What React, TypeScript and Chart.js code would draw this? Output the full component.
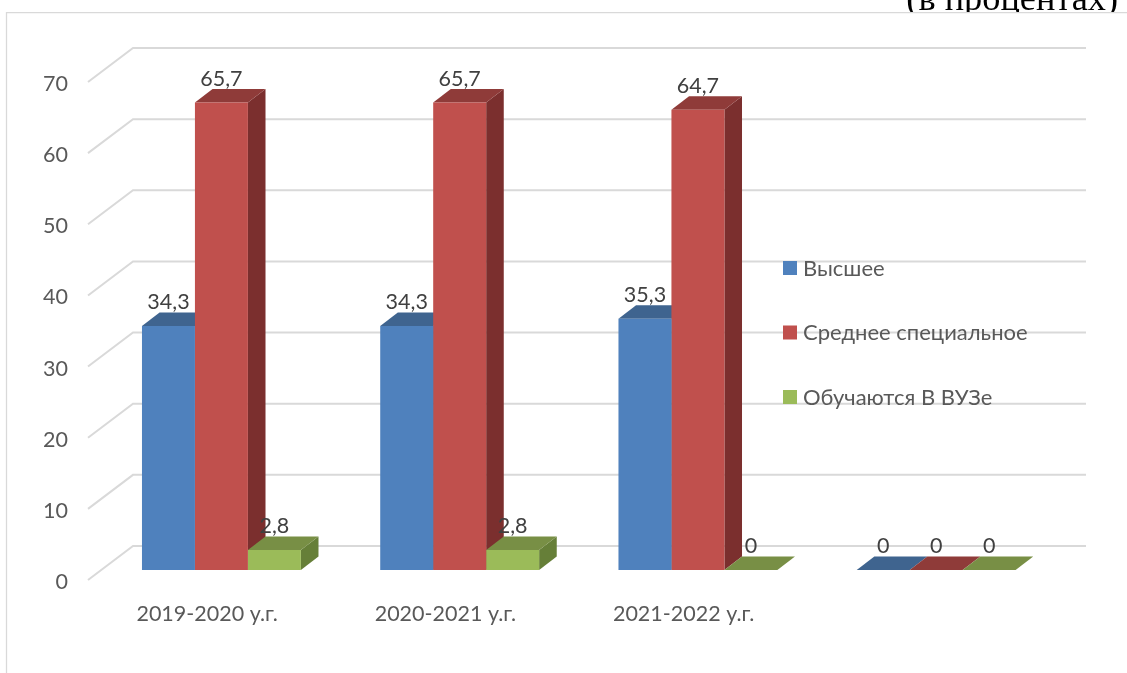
import React, { useEffect, useRef } from "react";
import { Chart, registerables } from "chart.js";

Chart.register(...registerables);

const categories = ["2019-2020 у.г.", "2020-2021 у.г.", "2021-2022 у.г.", ""];
const higher = [34.3, 34.3, 35.3, 0];
const specialised = [65.7, 65.7, 64.7, 0];
const studying = [2.8, 2.8, 0, 0];
const seriesNames = ["Высшее", "Среднее специальное", "Обучаются В ВУЗе"];
const yTicks = [0, 10, 20, 30, 40, 50, 60, 70];
const pageNote = "(в процентах)";

const frontColors = ["#4F81BD", "#C0504D", "#9BBB59"];
const topColors = ["#3F648F", "#8F3B39", "#788F45"];
const sideColors = ["#35557C", "#7B2F2E", "#667F38"];

const FONT = "Lato, sans-serif";
const FONT_SIZE = 21.5;
const LEGEND_FONT_SIZE = 22;
const WALL_DX = 45;
const WALL_DY = 34;
const BAR_GAP_DX = 14.3;
const BAR_GAP_DY = 10;
const DEPTH_DX = 17.6;
const DEPTH_DY = 13.5;

function poly(ctx: CanvasRenderingContext2D, pts: number[][], fill: string) {
  ctx.beginPath();
  pts.forEach(([x, y], i) => (i ? ctx.lineTo(x, y) : ctx.moveTo(x, y)));
  ctx.closePath();
  ctx.fillStyle = fill;
  ctx.fill();
}

const framePlugin = {
  id: "frame3d",
  beforeDraw(chart: any) {
    const { ctx, width, height, chartArea, scales } = chart;
    ctx.save();
    // note text cut by the chart frame
    ctx.save();
    ctx.beginPath();
    ctx.rect(0, 0, width, 12);
    ctx.clip();
    ctx.font = "36.3px 'Liberation Serif', serif";
    ctx.fillStyle = "#000";
    ctx.textAlign = "right";
    ctx.textBaseline = "alphabetic";
    ctx.fillText(pageNote, 1118, 9.5);
    ctx.restore();
    // frame
    ctx.strokeStyle = "#D9D9D9";
    ctx.lineWidth = 1.25;
    ctx.beginPath();
    ctx.moveTo(6.5, height);
    ctx.lineTo(6.5, 12.5);
    ctx.lineTo(width, 12.5);
    ctx.stroke();
    // floor and wall grid
    ctx.strokeStyle = "#D9D9D9";
    ctx.lineWidth = 2;
    ctx.lineJoin = "miter";
    yTicks.forEach((v) => {
      const y = scales.y.getPixelForValue(v);
      ctx.beginPath();
      ctx.moveTo(chartArea.left, y);
      ctx.lineTo(chartArea.left + WALL_DX, y - WALL_DY);
      ctx.lineTo(chartArea.right + WALL_DX, y - WALL_DY);
      ctx.stroke();
    });
    ctx.restore();
  },
  beforeDatasetsDraw(chart: any) {
    const { ctx } = chart;
    ctx.save();
    ctx.translate(BAR_GAP_DX, -BAR_GAP_DY);
    categories.forEach((_, i) => {
      chart.data.datasets.forEach((_d: any, s: number) => {
        const el = chart.getDatasetMeta(s).data[i];
        const l = el.x - el.width / 2;
        const r = el.x + el.width / 2;
        poly(ctx, [[r, el.y], [r + DEPTH_DX, el.y - DEPTH_DY], [r + DEPTH_DX, el.base - DEPTH_DY], [r, el.base]], sideColors[s]);
        poly(ctx, [[l, el.y], [l + DEPTH_DX, el.y - DEPTH_DY], [r + DEPTH_DX, el.y - DEPTH_DY], [r, el.y]], topColors[s]);
      });
    });
    // the translation stays on while the library draws the front faces
  },
  afterDatasetsDraw(chart: any) {
    const { ctx } = chart;
    ctx.restore();
    ctx.save();
    ctx.font = `${FONT_SIZE}px ${FONT}`;
    ctx.fillStyle = "#404040";
    ctx.textAlign = "center";
    ctx.textBaseline = "middle";
    chart.data.datasets.forEach((d: any, s: number) => {
      chart.getDatasetMeta(s).data.forEach((el: any, i: number) => {
        const label = String(d.data[i]).replace(".", ",");
        ctx.fillText(label, el.x + BAR_GAP_DX, el.y - BAR_GAP_DY - DEPTH_DY - 10.5);
      });
    });
    // legend
    const legendY = [268, 332.5, 397];
    ctx.font = `${LEGEND_FONT_SIZE}px ${FONT}`;
    ctx.textAlign = "left";
    seriesNames.forEach((name, s) => {
      ctx.fillStyle = frontColors[s];
      ctx.fillRect(783, legendY[s] - 7, 14, 14);
      ctx.fillStyle = "#595959";
      ctx.fillText(name, 803, legendY[s] + 0.5);
    });
    ctx.restore();
  },
};

export default function App() {
  const ref = useRef<HTMLCanvasElement>(null);
  useEffect(() => {
    const chart = new Chart(ref.current!, {
      type: "bar",
      data: {
        labels: categories,
        datasets: [higher, specialised, studying].map((data, s) => ({
          label: seriesNames[s],
          data,
          backgroundColor: frontColors[s],
          borderWidth: 0,
          categoryPercentage: 0.667,
          barPercentage: 1,
          clip: false as any,
        })),
      },
      plugins: [framePlugin as any],
      options: {
        responsive: false,
        animation: false,
        layout: { padding: { top: 82, right: 86, left: 0, bottom: 0 } },
        plugins: { legend: { display: false }, title: { display: false }, tooltip: { enabled: false } },
        scales: {
          x: {
            grid: { display: false },
            border: { display: false },
            ticks: { color: "#595959", font: { family: FONT, size: FONT_SIZE }, padding: 13, maxRotation: 0, autoSkip: false },
            afterFit: (s: any) => { s.height = 93; },
          },
          y: {
            min: 0,
            max: 70,
            grid: { display: false },
            border: { display: false },
            ticks: { stepSize: 10, color: "#595959", font: { family: FONT, size: FONT_SIZE }, padding: 12, labelOffset: 2 },
            afterFit: (s: any) => { s.width = 88; },
          },
        },
      },
    });
    return () => chart.destroy();
  }, []);
  return (
    <div style={{ position: "absolute", left: 0, top: 0, width: 1127, height: 673, overflow: "hidden", background: "#fff" }}>
      <canvas ref={ref} width={1127} height={673} style={{ display: "block" }} />
    </div>
  );
}
